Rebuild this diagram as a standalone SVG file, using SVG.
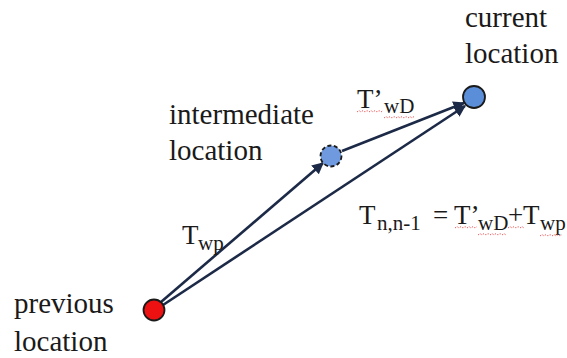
<svg xmlns="http://www.w3.org/2000/svg" width="567" height="358" viewBox="0 0 567 358">
<style>
.lbl{font-size:29px}
.t{font-size:27px}
.s{font-size:21px}
.edge{stroke:#1c2a47;stroke-width:2.6;fill:none}
.sq{stroke:#e33;stroke-width:1;fill:none;stroke-dasharray:1.5 1.5;opacity:0.8}
</style>
<defs>
<marker id="ah" viewBox="0 0 10 10" refX="9" refY="5" markerWidth="4.5" markerHeight="4.5" orient="auto" markerUnits="strokeWidth">
<path d="M0,0 L10,5 L0,10 z" fill="#1c2a47"/>
</marker>
</defs>
<rect width="567" height="358" fill="#ffffff"/>
<g id="connectors">
<line class="edge" x1="161" y1="302" x2="323" y2="163" marker-end="url(#ah)"/>
<line class="edge" x1="342" y1="151" x2="464" y2="103" marker-end="url(#ah)"/>
<line class="edge" x1="163" y1="305" x2="465" y2="106" marker-end="url(#ah)"/>
</g>
<g font-family="'Liberation Serif', 'DejaVu Serif', serif" fill="#1a1a1a">
<g id="previous">
<circle cx="154" cy="310" r="10.5" fill="#ee1111" stroke="#1a1a1a" stroke-width="1.8"/>
<text class="lbl" x="14" y="313">previous</text>
<text class="lbl" x="14" y="351">location</text>
</g>
<g id="intermediate">
<circle cx="331" cy="156" r="10.5" fill="#6f9ae0" stroke="#1a1a1a" stroke-width="1.8" stroke-dasharray="4 2.5"/>
<text class="lbl" x="169" y="124">intermediate</text>
<text class="lbl" x="169" y="160">location</text>
</g>
<g id="current">
<circle cx="474" cy="97" r="11" fill="#5b8ed8" stroke="#1a1a1a" stroke-width="1.8"/>
<text class="lbl" x="465" y="27">current</text>
<text class="lbl" x="465" y="63">location</text>
</g>
<g id="labels">
<text x="357" y="108"><tspan class="t">T’</tspan><tspan class="s" x="384" y="113">wD</tspan></text>
<text x="182" y="244"><tspan class="t">T</tspan><tspan class="s" x="198" y="250">wp</tspan></text>
<text x="359" y="224"><tspan class="t">T</tspan><tspan class="s" x="377" y="230">n,n-1</tspan><tspan class="t" x="433" y="224">=</tspan><tspan class="t" x="454" y="224">T’</tspan><tspan class="s" x="478" y="230">wD</tspan><tspan class="t" x="508" y="224">+</tspan><tspan class="t" x="523" y="224">T</tspan><tspan class="s" x="540" y="230">wp</tspan></text>
<path class="sq" d="M357,112 l2,-1.5 l2,1.5 l2,-1.5 l2,1.5 l2,-1.5 l2,1.5 l2,-1.5 l2,1.5 l2,-1.5 l2,1.5 l2,-1.5 l2,1.5 l2,-1.5 M384,118 l2,-1.5 l2,1.5 l2,-1.5 l2,1.5 l2,-1.5 l2,1.5 l2,-1.5 l2,1.5 l2,-1.5 l2,1.5 l2,-1.5 l2,1.5 l2,-1.5 l2,1.5 l2,-1.5"/>
<path class="sq" d="M455,228 l2,-1.5 l2,1.5 l2,-1.5 l2,1.5 l2,-1.5 l2,1.5 l2,-1.5 l2,1.5 l2,-1.5 l2,1.5 l2,-1.5 M478,235 l2,-1.5 l2,1.5 l2,-1.5 l2,1.5 l2,-1.5 l2,1.5 l2,-1.5 l2,1.5 l2,-1.5 l2,1.5 l2,-1.5 l2,1.5 l2,-1.5 l2,1.5 M508,228 l2,-1.5 l2,1.5 l2,-1.5 l2,1.5 l2,-1.5 l2,1.5 l2,-1.5 l2,1.5 M540,236 l2,-1.5 l2,1.5 l2,-1.5 l2,1.5 l2,-1.5 l2,1.5 l2,-1.5 l2,1.5 l2,-1.5 l2,1.5 l2,-1.5"/>
</g>
</g>
</svg>
